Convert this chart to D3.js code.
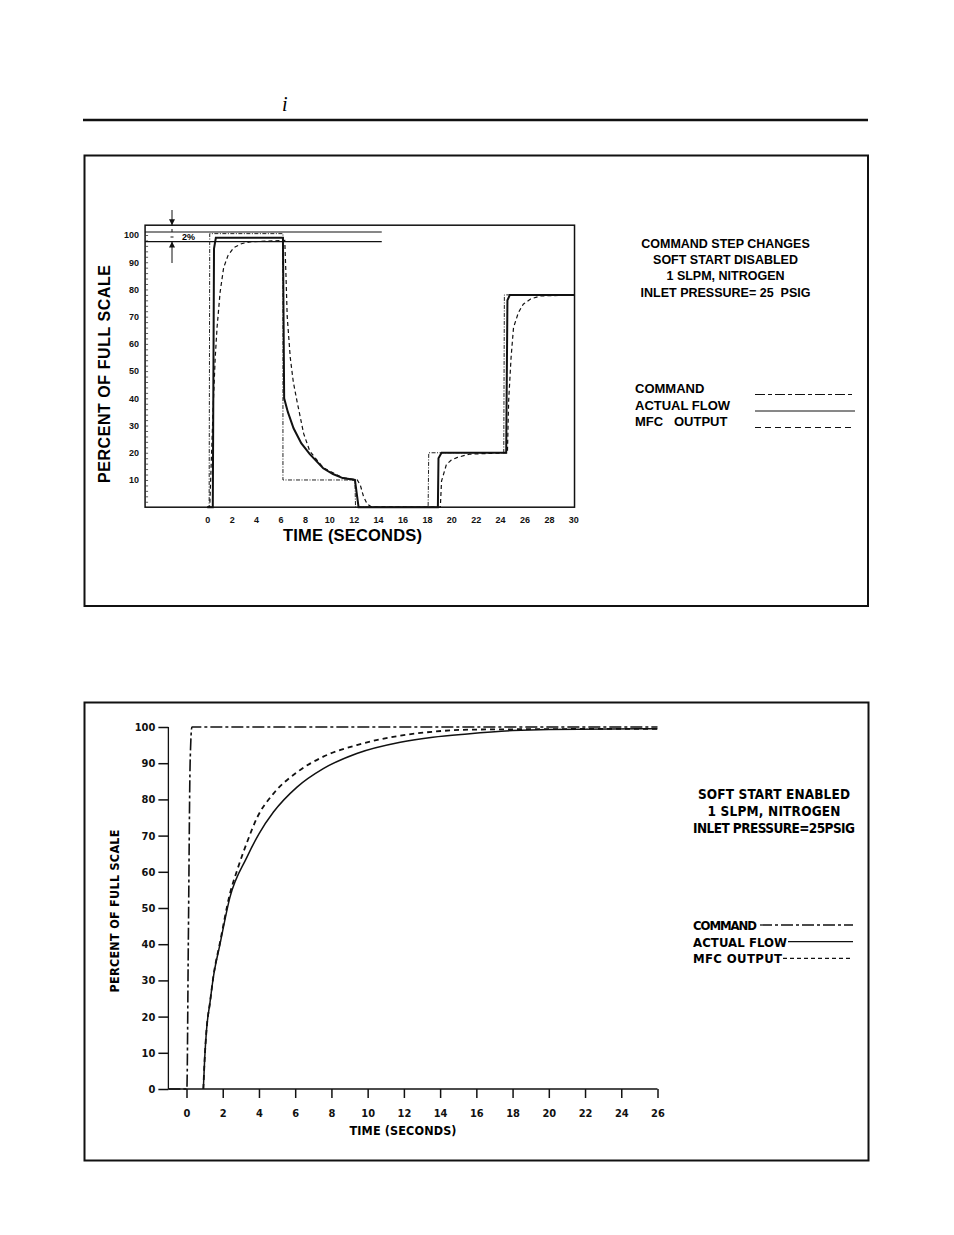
<!DOCTYPE html>
<html><head><meta charset="utf-8">
<script src="https://cdn.jsdelivr.net/npm/d3@7"></script>
<style>body{margin:0;background:#fff}svg{display:block}text{white-space:pre}</style>
</head><body>
<script>
// ---------- DATA: top chart (soft start disabled) ----------
const xTicksTop = [0,2,4,6,8,10,12,14,16,18,20,22,24,26,28,30];
const yTicksTop = [10,20,30,40,50,60,70,80,90,100];
const bandTop = [101.1, 97.6];            // the 2% band lines
const commandTop = [[0,0],[0.15,0],[0.2,100.5],[6.2,100.5],[6.2,10],[12.1,10],[12.15,0],[18.1,0],[18.15,20],[24.3,20],[24.35,78],[30.1,78]];
const actualTop = [[0,0],[0.45,0],[0.55,95],[0.7,99],[6.2,99],[6.3,40],[6.6,35],[7.07,29],[7.7,23.5],[8.4,19.5],[9.5,14.3],[10.3,12.2],[11.1,10.7],[12.1,10],[12.4,0],[18.9,0],[18.95,18],[19.2,20],[24.5,20],[24.6,76],[24.8,78],[30.1,78]];
const mfcTop = [[0,0],[0.2,0],[0.35,20],[0.5,39],[0.65,55],[0.8,66],[1.05,79],[1.34,88],[1.7,92.5],[2.16,95.3],[2.8,96.8],[3.5,97.5],[6.35,98],[6.45,85],[6.55,70],[6.8,55],[7.05,46],[7.35,39],[7.9,27],[8.4,20.6],[9.5,14.5],[11.1,10.8],[12.3,10],[12.55,8],[12.8,4],[13.1,1.2],[13.5,0],[19.1,0],[19.2,9.6],[19.6,15.7],[20.0,17.3],[20.5,18.3],[21.5,19.5],[24.6,20],[24.7,39],[24.9,55],[25.1,66],[25.5,71.5],[25.9,74.6],[26.5,76.5],[27.3,77.6],[30.1,78]];
const infoTop = ["COMMAND STEP CHANGES","SOFT START DISABLED","1 SLPM, NITROGEN","INLET PRESSURE= 25  PSIG"];
const legendTop = ["COMMAND","ACTUAL FLOW","MFC   OUTPUT"];

// ---------- DATA: bottom chart (soft start enabled) ----------
const xTicksBot = [0,2,4,6,8,10,12,14,16,18,20,22,24,26];
const yTicksBot = [0,10,20,30,40,50,60,70,80,90,100];
const commandBot = [[-1,0],[0.02,0],[0.1,40],[0.2,90],[0.3,100],[26,100]];
const actualBot = [[0.93,0],[1.0,8],[1.1,16],[1.3,24],[1.48,30.8],[1.85,40],[2.4,53],[3.33,64],[4.0,70.5],[4.8,76.5],[6.1,83.4],[7.55,88.5],[9.4,92.7],[11.8,95.8],[13.6,97.2],[15.5,98.1],[18,99],[20,99.3],[26,99.5]];
const mfcBot = [[0.93,0],[1.0,8],[1.1,16],[1.3,24],[1.48,31],[1.85,40.5],[2.4,54],[2.8,60.5],[3.33,68],[3.9,75],[4.8,81.6],[6.1,87.5],[7.55,91.8],[9.4,95],[11.8,97.6],[13.6,98.7],[16,99.3],[26,99.5]];
const infoBot = ["SOFT START ENABLED","1 SLPM, NITROGEN","INLET PRESSURE=25PSIG"];
const legendBot = ["COMMAND","ACTUAL FLOW","MFC OUTPUT"];

const W = 954, H = 1235;
const svg = d3.select("body").append("svg").attr("width", W).attr("height", H);
svg.append("rect").attr("width", W).attr("height", H).attr("fill", "#fff");
const SANS = "'Liberation Sans', Arial, sans-serif";
const COND = "'Liberation Sans Narrow','DejaVu Sans Condensed', sans-serif";

// header
svg.append("line").attr("x1",83).attr("x2",868).attr("y1",120).attr("y2",120).attr("stroke","#111").attr("stroke-width",2.5);
svg.append("text").attr("x",282).attr("y",111).attr("font-family","'Liberation Serif', serif").attr("font-style","italic").attr("font-size",20).text("i");

// boxes
svg.append("rect").attr("x",84.5).attr("y",155.5).attr("width",783.5).attr("height",450.5).attr("fill","none").attr("stroke","#111").attr("stroke-width",2);
svg.append("rect").attr("x",84.5).attr("y",702.5).attr("width",784).attr("height",458).attr("fill","none").attr("stroke","#111").attr("stroke-width",2);

// ================= TOP CHART =================
const x1 = d3.scaleLinear().domain([0,30]).range([207.3,573.3]);
const y1 = d3.scaleLinear().domain([0,100]).range([507.2,235]);
const g1 = svg.append("g");
const fx0 = x1(-5.1), fx1 = x1(30.1), fy0 = y1(0), fy1 = y1(103.6);
g1.append("rect").attr("x",fx0).attr("y",fy1).attr("width",fx1-fx0).attr("height",fy0-fy1).attr("fill","none").attr("stroke","#111").attr("stroke-width",1.5);
// minor ticks inside left frame
g1.append("g").attr("transform",`translate(${fx0},0)`).call(d3.axisRight(y1).tickValues(d3.range(2,102,2)).tickSize(3).tickFormat(""))
  .call(g=>g.select(".domain").remove()).selectAll("line").attr("stroke","#333").attr("stroke-width",0.8);
// band lines
bandTop.forEach(v=>g1.append("line").attr("x1",fx0).attr("x2",x1(14.3)).attr("y1",y1(v)).attr("y2",y1(v)).attr("stroke","#111").attr("stroke-width",1.2));
// y axis labels
g1.append("g").attr("transform",`translate(${fx0},0)`).call(d3.axisLeft(y1).tickValues(yTicksTop).tickSize(0).tickPadding(6))
  .call(g=>g.select(".domain").remove())
  .selectAll("text").attr("font-family",SANS).attr("font-weight","bold").attr("font-size",9).attr("fill","#111");
// x axis labels
g1.append("g").attr("transform",`translate(0,${fy0})`).call(d3.axisBottom(x1).tickValues(xTicksTop).tickSize(0))
  .call(g=>g.select(".domain").remove())
  .selectAll("text").attr("y",13).attr("dy","0.35em").attr("font-family",SANS).attr("font-weight","bold").attr("font-size",9).attr("fill","#111");
g1.append("text").attr("x",352.5).attr("y",541).attr("text-anchor","middle").attr("font-family",SANS).attr("font-weight","bold").attr("font-size",16.5).attr("textLength",139).text("TIME (SECONDS)");
g1.append("text").attr("transform","translate(110,374) rotate(-90)").attr("text-anchor","middle").attr("font-family",SANS).attr("font-weight","bold").attr("font-size",16).attr("textLength",218).text("PERCENT OF FULL SCALE");

// 2% annotation
const ax = 172;
const ann = g1.append("g").attr("stroke","#111").attr("fill","#111");
ann.append("line").attr("x1",ax).attr("x2",ax).attr("y1",210).attr("y2",fy1).attr("stroke-width",1);
ann.append("line").attr("x1",ax).attr("x2",ax).attr("y1",y1(bandTop[1])).attr("y2",263).attr("stroke-width",1);
ann.append("path").attr("d",`M${ax-3},${fy1-6}L${ax+3},${fy1-6}L${ax},${fy1}Z`).attr("stroke","none");
ann.append("path").attr("d",`M${ax-3},${y1(bandTop[1])+6}L${ax+3},${y1(bandTop[1])+6}L${ax},${y1(bandTop[1])}Z`).attr("stroke","none");
ann.append("line").attr("x1",ax-1.5).attr("x2",ax+1.5).attr("y1",237).attr("y2",237).attr("stroke-width",1);
ann.append("line").attr("x1",ax).attr("x2",ax).attr("y1",229).attr("y2",232).attr("stroke-width",1);
g1.append("text").attr("x",182).attr("y",240).attr("font-family",SANS).attr("font-weight","bold").attr("font-size",9).text("2%");

const line1 = d3.line().x(d=>x1(d[0])).y(d=>y1(d[1]));
g1.append("path").attr("d",line1(commandTop)).attr("fill","none").attr("stroke","#222").attr("stroke-width",1).attr("stroke-dasharray","4,1.5,1,1.5");
g1.append("path").attr("d",line1(mfcTop)).attr("fill","none").attr("stroke","#111").attr("stroke-width",1.2).attr("stroke-dasharray","4,3");
g1.append("path").attr("d",line1(actualTop)).attr("fill","none").attr("stroke","#111").attr("stroke-width",2);

// info text
infoTop.forEach((t,i)=>g1.append("text").attr("x",725.5).attr("y",248+i*16.2).attr("text-anchor","middle").attr("font-family",SANS).attr("font-weight","bold").attr("font-size",12.5).text(t));
// legend
const legStylesTop = [["10,3,4,3",1],[null,1],["6,4",1]];
legendTop.forEach((t,i)=>{
  g1.append("text").attr("x",635).attr("y",393+i*16.5).attr("font-family",SANS).attr("font-weight","bold").attr("font-size",13).text(t);
  const l = g1.append("line").attr("x1",755).attr("x2",855).attr("y1",394.5+i*16.5).attr("y2",394.5+i*16.5).attr("stroke","#111").attr("stroke-width",legStylesTop[i][1]);
  if (legStylesTop[i][0]) l.attr("stroke-dasharray",legStylesTop[i][0]);
});

// ================= BOTTOM CHART =================
const x2 = d3.scaleLinear().domain([0,26]).range([186.5,657.5]);
const y2 = d3.scaleLinear().domain([0,100]).range([1089,727]);
const g2 = svg.append("g");
// y axis
g2.append("g").attr("transform",`translate(${x2(-1)},0)`).call(d3.axisLeft(y2).tickValues(yTicksBot).tickSize(10).tickPadding(3))
  .call(g=>g.select(".domain").attr("stroke","#111").attr("stroke-width",1.3).attr("d",`M0,${y2(0)}V${y2(100)}`))
  .call(g=>g.selectAll("line").attr("stroke","#111").attr("stroke-width",1.5))
  .selectAll("text").attr("font-family",COND).attr("font-weight","bold").attr("font-size",11).attr("fill","#111");
// x axis
g2.append("g").attr("transform",`translate(0,${y2(0)})`).call(d3.axisBottom(x2).tickValues(xTicksBot).tickSize(9).tickPadding(0))
  .call(g=>g.select(".domain").attr("stroke","#111").attr("stroke-width",1.3).attr("d",`M${x2(-1)},0H${x2(26)}`))
  .call(g=>g.selectAll("line").attr("stroke","#111").attr("stroke-width",1.5))
  .selectAll("text").attr("y",24).attr("dy","0.35em").attr("font-family",COND).attr("font-weight","bold").attr("font-size",11).attr("fill","#111");
g2.append("text").attr("x",403).attr("y",1134.5).attr("text-anchor","middle").attr("font-family",COND).attr("font-weight","bold").attr("font-size",12.5).attr("textLength",107).text("TIME (SECONDS)");
g2.append("text").attr("transform","translate(119,911) rotate(-90)").attr("text-anchor","middle").attr("font-family",COND).attr("font-weight","bold").attr("font-size",12.5).attr("textLength",163).text("PERCENT OF FULL SCALE");

const line2 = d3.line().x(d=>x2(d[0])).y(d=>y2(d[1])).curve(d3.curveMonotoneX);
g2.append("path").attr("d",line2(commandBot)).attr("fill","none").attr("stroke","#111").attr("stroke-width",1.6).attr("stroke-dasharray","12,3,3,3");
g2.append("path").attr("d",line2(mfcBot)).attr("fill","none").attr("stroke","#111").attr("stroke-width",1.8).attr("stroke-dasharray","5,4");
g2.append("path").attr("d",line2(actualBot)).attr("fill","none").attr("stroke","#111").attr("stroke-width",1.5);

const infoBotLen = [152,133,162];
infoBot.forEach((t,i)=>g2.append("text").attr("x",774).attr("y",799+i*17).attr("text-anchor","middle").attr("font-family",COND).attr("font-weight","bold").attr("font-size",13.5).attr("textLength",infoBotLen[i]).text(t));
const legBotLen = [64,94,89];
const legBotLine = [[760,"12,3,3,3"],[788,null],[783,"4,3"]];
legendBot.forEach((t,i)=>{
  g2.append("text").attr("x",693).attr("y",930+i*16.7).attr("font-family",COND).attr("font-weight","bold").attr("font-size",13).attr("textLength",legBotLen[i]).text(t);
  const l = g2.append("line").attr("x1",legBotLine[i][0]).attr("x2",853).attr("y1",925+i*16.7).attr("y2",925+i*16.7).attr("stroke","#111").attr("stroke-width",1.3);
  if (legBotLine[i][1]) l.attr("stroke-dasharray",legBotLine[i][1]);
});
</script>
</body></html>
